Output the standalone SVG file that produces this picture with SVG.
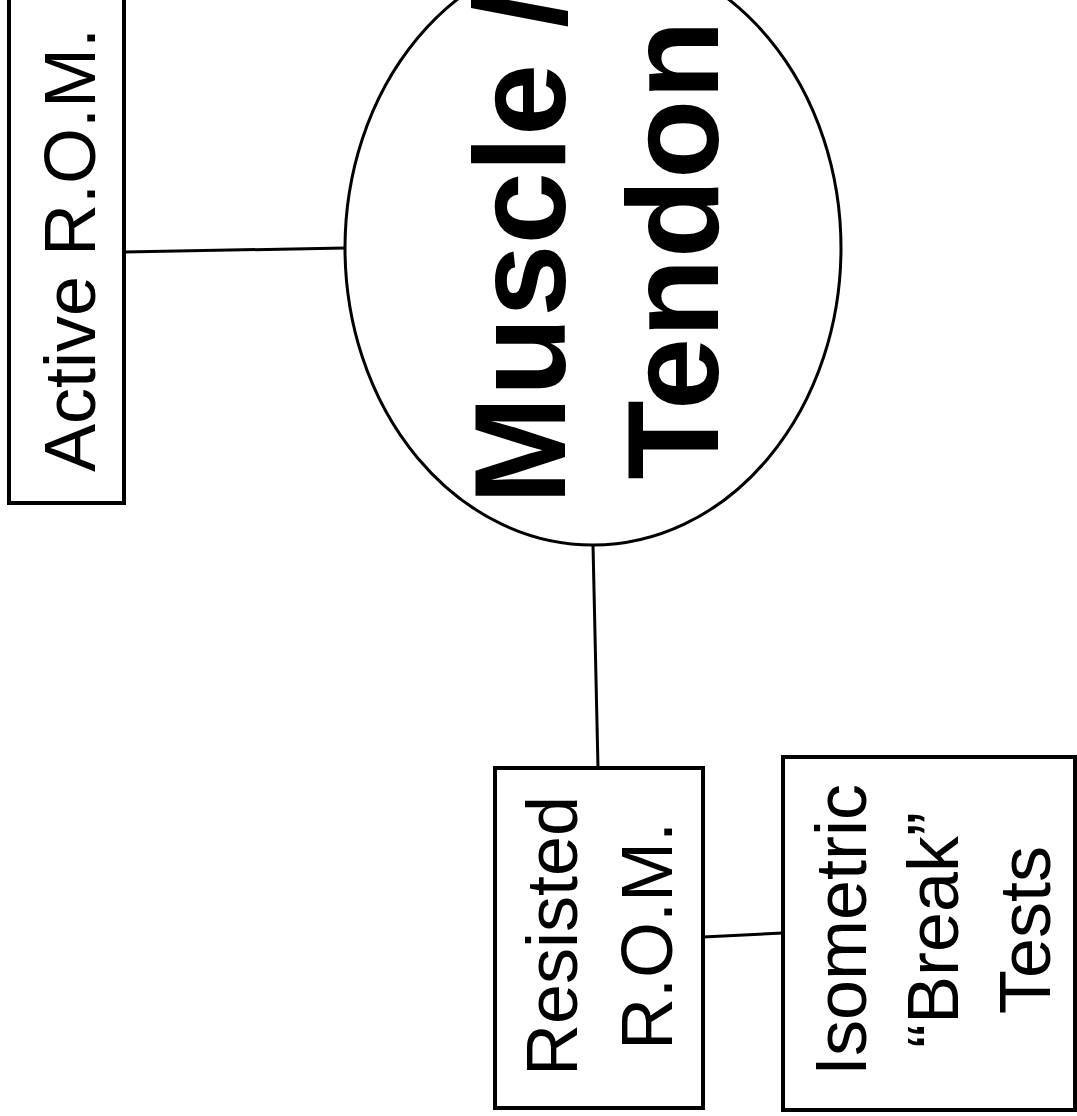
<svg xmlns="http://www.w3.org/2000/svg" width="1077" height="1116" viewBox="0 0 1077 1116">
<style>
.box{fill:#fff;stroke:#000;stroke-width:4}
.ell{fill:#fff;stroke:#000;stroke-width:3}
.lbl{font-family:"Liberation Sans",Arial,sans-serif;font-size:72px;fill:#000;text-anchor:middle}
.big{font-family:"Liberation Sans",Arial,sans-serif;font-size:130px;font-weight:bold;fill:#000;text-anchor:middle}
.conn{stroke:#000;stroke-width:3;fill:none}
</style>
<rect width="1077" height="1116" fill="#fff"/>
<g id="connectors">
<line class="conn" x1="124" y1="252" x2="345" y2="248"/>
<line class="conn" x1="593" y1="545" x2="598" y2="768"/>
<line class="conn" x1="703" y1="937" x2="783" y2="933"/>
</g>
<g id="active-rom">
<rect class="box" x="9" y="-4" width="115" height="507"/>
<text class="lbl" transform="translate(95,250) rotate(-90)">Active R.O.M.</text>
</g>
<g id="muscle-tendon">
<ellipse class="ell" cx="593" cy="248" rx="248" ry="297"/>
<text class="big" transform="translate(565,248) rotate(-90)">Muscle /</text>
<text class="big" transform="translate(718,250) rotate(-90)">Tendon</text>
</g>
<g id="resisted-rom">
<rect class="box" x="495" y="768" width="208" height="340"/>
<text class="lbl" transform="translate(577,936) rotate(-90)">Resisted</text>
<text class="lbl" transform="translate(672,936) rotate(-90)">R.O.M.</text>
</g>
<g id="isometric">
<rect class="box" x="783" y="757" width="292" height="353"/>
<text class="lbl" transform="translate(866,930) rotate(-90)">Isometric</text>
<text class="lbl" transform="translate(958,930) rotate(-90)">“Break”</text>
<text class="lbl" transform="translate(1050,930) rotate(-90)">Tests</text>
</g>
</svg>
